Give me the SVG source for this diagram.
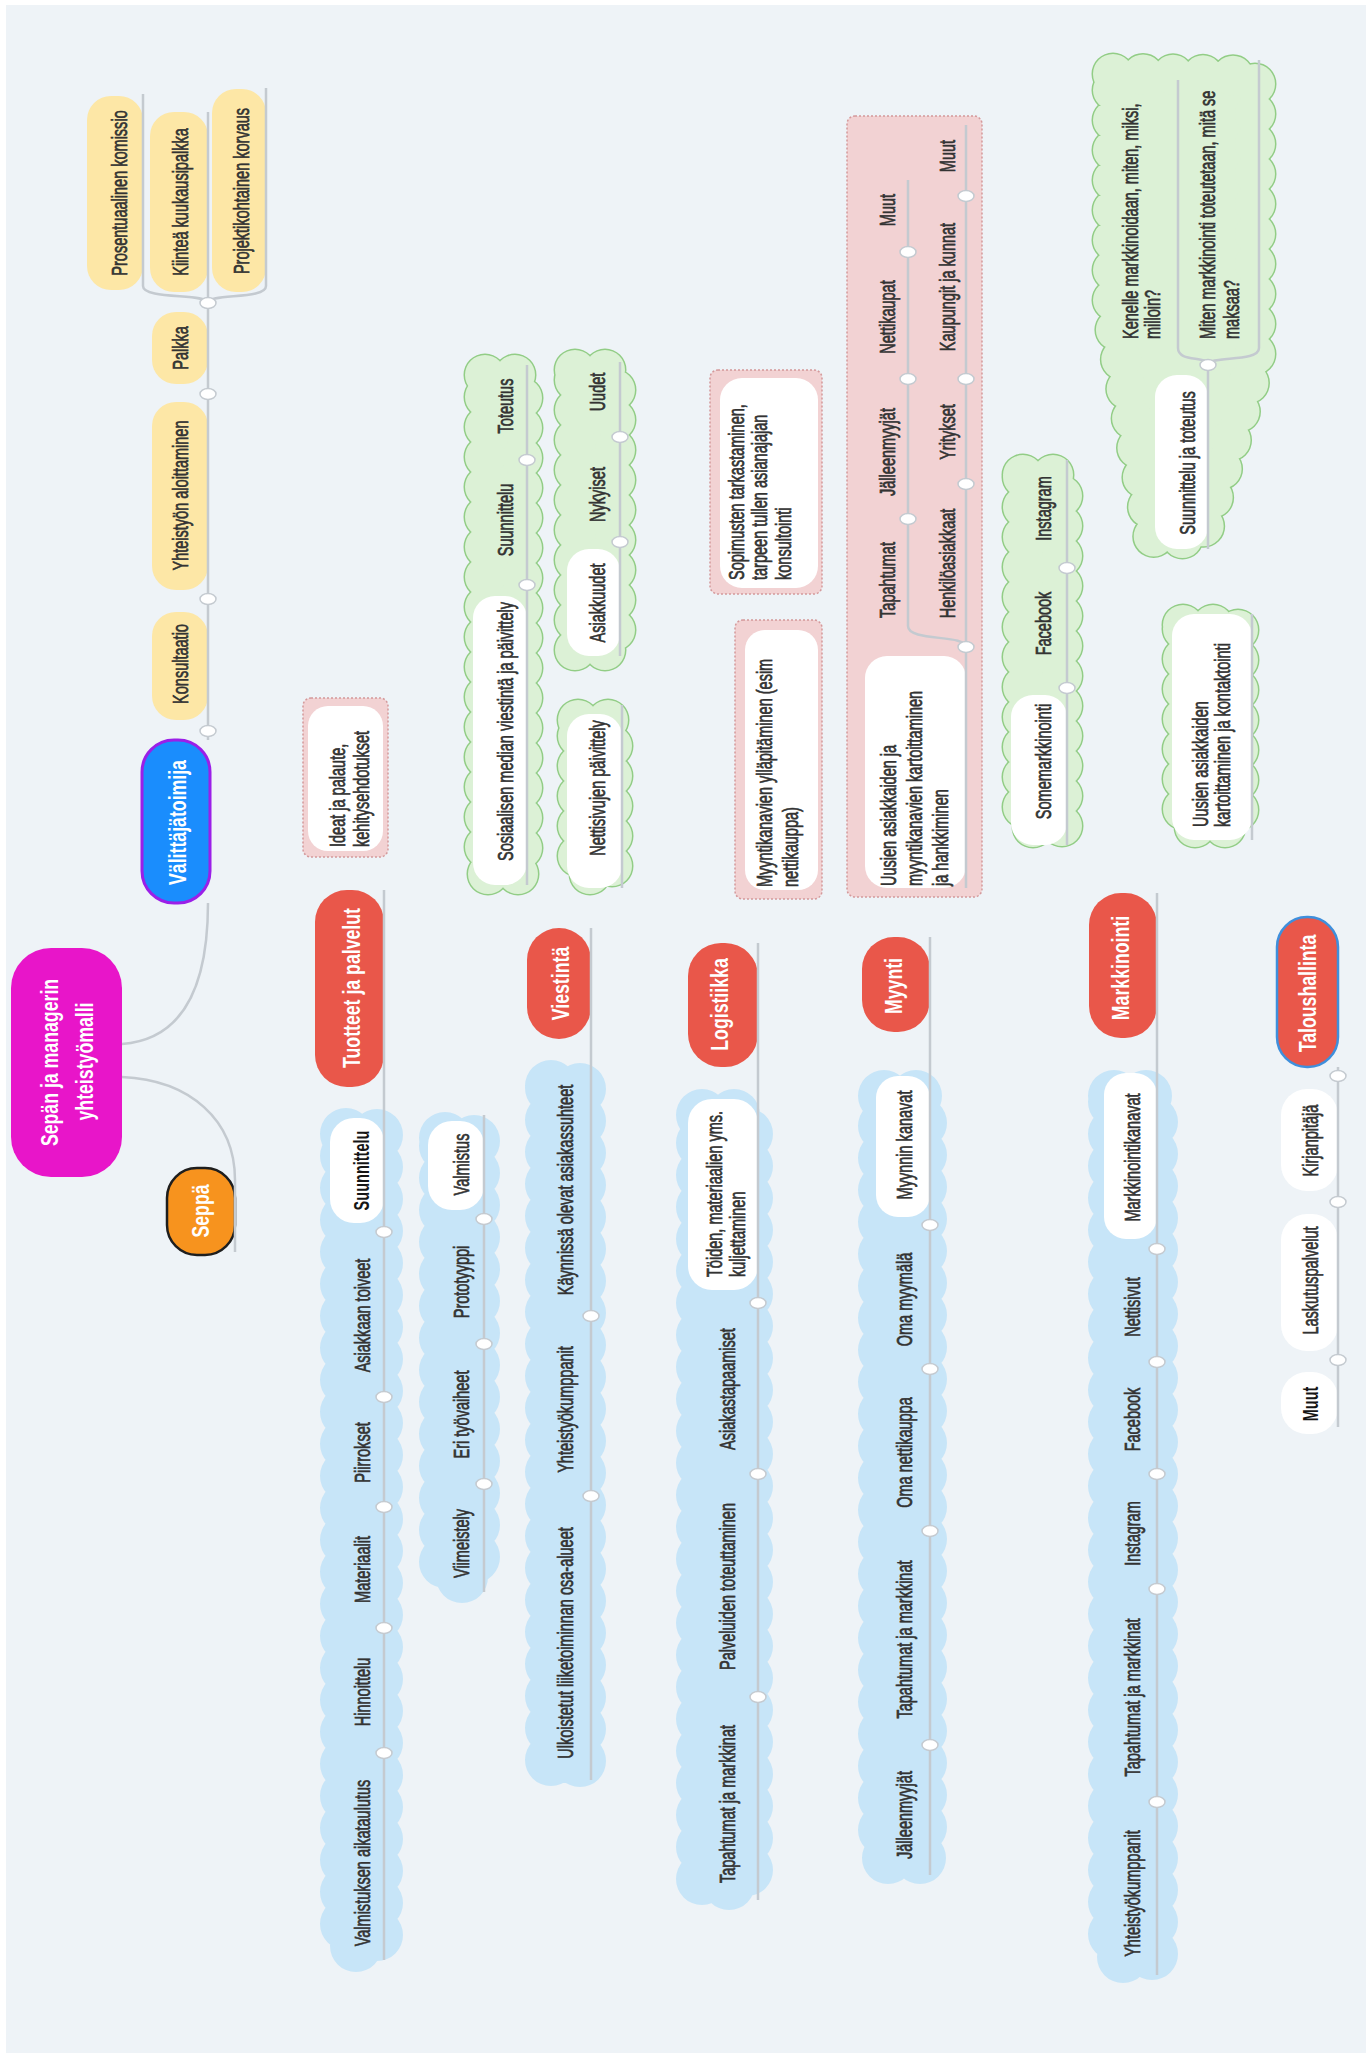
<svg xmlns="http://www.w3.org/2000/svg" width="1372" height="2053" viewBox="0 0 1372 2053">
  <style>
    text{font-family:"Liberation Sans",Arial,sans-serif}
    .t{font-size:22px;fill:#333;stroke:#333;stroke-width:.7;text-anchor:middle;dominant-baseline:central}
    .ts{font-size:22px;fill:#333;stroke:#333;stroke-width:.7;text-anchor:start;dominant-baseline:central}
    .tb{font-weight:bold;fill:#151515;stroke:none}
    .w{font-size:23px;font-weight:bold;fill:#fff;text-anchor:middle;dominant-baseline:central}
    .yel{fill:#fde7a6}
    .red{fill:#e9574a}
    .pill{fill:#fff}
    .pink{fill:#f2d2d3;stroke:#d4999b;stroke-width:1.5;stroke-dasharray:2 2}
    .cb{fill:#c7e5f8;stroke:#c7e5f8;stroke-width:52;stroke-dasharray:0 32;stroke-linecap:round;stroke-linejoin:round}
    .cgo{fill:none;stroke:#92cd86;stroke-width:43;stroke-dasharray:0 30;stroke-linecap:round;stroke-linejoin:round}
    .cg{fill:#dcf1d6;stroke:#dcf1d6;stroke-width:40;stroke-dasharray:0 30;stroke-linecap:round;stroke-linejoin:round}
    .ln{fill:none;stroke:#c4cad0;stroke-width:2.5}
    .dot{fill:#fff;stroke:#c4cad0;stroke-width:1.5}
  </style>

  <rect width="1372" height="2053" fill="#fff"/>
  <rect x="6" y="5" width="1360" height="2048" fill="#eef3f7"/>

  <!-- central topic and its two main branches -->
  <g id="n-root">
    <rect x="11" y="948" width="111" height="229" rx="40" fill="#e815c9"/>
    <text class="w" transform="translate(50,1062.5) rotate(-90) scale(.77,1)">Sepän ja managerin</text>
    <text class="w" transform="translate(85,1061.5) rotate(-90) scale(.77,1)">yhteistyömalli</text>
  </g>
  <g id="n-valittajatoimija">
    <rect x="142" y="740" width="68" height="163" rx="32" fill="#1a8dfd" stroke="#9b1fe8" stroke-width="3"/>
    <text class="w" transform="translate(178,822.5) rotate(-90) scale(.77,1)">Välittäjätoimija</text>
  </g>
  <g id="n-seppa">
    <rect x="167" y="1168" width="68" height="87" rx="30" fill="#f7931e" stroke="#1e1e1e" stroke-width="2.5"/>
    <text class="w" transform="translate(201,1211) rotate(-90) scale(.77,1)">Seppä</text>
  </g>

  <!-- yellow sub-topics of Välittäjätoimija -->
  <g id="n-prosentuaalinen">
    <rect class="yel" x="87" y="96" width="56" height="194" rx="24"/>
    <text class="t" transform="translate(119,193) rotate(-90) scale(.66,1)">Prosentuaalinen komissio</text>
  </g>
  <g id="n-kiintea">
    <rect class="yel" x="150" y="112" width="58" height="180" rx="24"/>
    <text class="t" transform="translate(180,202) rotate(-90) scale(.66,1)">Kiinteä kuukausipalkka</text>
  </g>
  <g id="n-projektikohtainen">
    <rect class="yel" x="212" y="89" width="54" height="203" rx="24"/>
    <text class="t" transform="translate(241,191) rotate(-90) scale(.66,1)">Projektikohtainen korvaus</text>
  </g>
  <g id="n-palkka">
    <rect class="yel" x="152" y="312" width="56" height="72" rx="24"/>
    <text class="t" transform="translate(180,348) rotate(-90) scale(.66,1)">Palkka</text>
  </g>
  <g id="n-yhteistyon">
    <rect class="yel" x="152" y="402" width="56" height="188" rx="24"/>
    <text class="t" transform="translate(180,495.5) rotate(-90) scale(.66,1)">Yhteistyön aloittaminen</text>
  </g>
  <g id="n-konsultaatio">
    <rect class="yel" x="152" y="612" width="56" height="108" rx="24"/>
    <text class="t" transform="translate(180,664) rotate(-90) scale(.66,1)">Konsultaatio</text>
  </g>

  <!-- note boxes (pink, dotted) -->
  <g id="n-ideat">
    <rect class="pink" x="303" y="698" width="85" height="159" rx="8"/>
    <rect class="pill" x="308" y="706" width="75" height="145" rx="20"/>
    <text class="ts" transform="translate(337,847) rotate(-90) scale(.66,1)">Ideat ja palaute,</text>
    <text class="ts" transform="translate(361,847) rotate(-90) scale(.66,1)">kehitysehdotukset</text>
  </g>
  <g id="n-sopimusten">
    <rect class="pink" x="710" y="370" width="112" height="224" rx="8"/>
    <rect class="pill" x="720" y="378" width="98" height="210" rx="22"/>
    <text class="ts" transform="translate(736,580) rotate(-90) scale(.66,1)">Sopimusten tarkastaminen,</text>
    <text class="ts" transform="translate(759,580) rotate(-90) scale(.66,1)">tarpeen tullen asianajajan</text>
    <text class="ts" transform="translate(783,580) rotate(-90) scale(.66,1)">konsultointi</text>
  </g>
  <g id="n-myyntikanavien">
    <rect class="pink" x="735" y="620" width="87" height="279" rx="8"/>
    <rect class="pill" x="745" y="630" width="73" height="260" rx="20"/>
    <text class="ts" transform="translate(764,887) rotate(-90) scale(.66,1)">Myyntikanavien ylläpitäminen (esim</text>
    <text class="ts" transform="translate(790,887) rotate(-90) scale(.66,1)">nettikauppa)</text>
  </g>
  <g id="n-uusien-myynti">
    <rect class="pink" x="847" y="116" width="135" height="781" rx="8"/>
    <rect class="pill" x="865" y="656" width="101" height="232" rx="22"/>
    <text class="ts" transform="translate(888,886) rotate(-90) scale(.66,1)">Uusien asiakkaiden ja</text>
    <text class="ts" transform="translate(914,886) rotate(-90) scale(.66,1)">myyntikanavien kartoittaminen</text>
    <text class="ts" transform="translate(940,886) rotate(-90) scale(.66,1)">ja hankkiminen</text>
    <text class="t" transform="translate(887,210) rotate(-90) scale(.66,1)">Muut</text>
    <text class="t" transform="translate(887,317) rotate(-90) scale(.66,1)">Nettikaupat</text>
    <text class="t" transform="translate(887,452) rotate(-90) scale(.66,1)">Jälleenmyyjät</text>
    <text class="t" transform="translate(887,580) rotate(-90) scale(.66,1)">Tapahtumat</text>
    <text class="t" transform="translate(947,156) rotate(-90) scale(.66,1)">Muut</text>
    <text class="t" transform="translate(947,287) rotate(-90) scale(.66,1)">Kaupungit ja kunnat</text>
    <text class="t" transform="translate(947,432) rotate(-90) scale(.66,1)">Yritykset</text>
    <text class="t" transform="translate(947,563.5) rotate(-90) scale(.66,1)">Henkilöasiakkaat</text>
  </g>

  <!-- green clouds -->
  <g id="n-some-viestinta">
    <rect class="cgo" x="485" y="375" width="37" height="499"/>
    <rect class="cg" x="485" y="375" width="37" height="499"/>
    <rect class="pill" x="473" y="596" width="54" height="289" rx="22"/>
    <text class="t" transform="translate(505,731.5) rotate(-90) scale(.66,1)">Sosiaalisen median viestintä ja päivittely</text>
    <text class="t" transform="translate(505,520) rotate(-90) scale(.66,1)">Suunnittelu</text>
    <text class="t" transform="translate(505,406) rotate(-90) scale(.66,1)">Toteutus</text>
  </g>
  <g id="n-asiakkuudet">
    <rect class="cgo" x="575" y="370" width="40" height="280"/>
    <rect class="cg" x="575" y="370" width="40" height="280"/>
    <rect class="pill" x="567" y="549" width="53" height="107" rx="22"/>
    <text class="t" transform="translate(597,603) rotate(-90) scale(.66,1)">Asiakkuudet</text>
    <text class="t" transform="translate(597,494.5) rotate(-90) scale(.66,1)">Nykyiset</text>
    <text class="t" transform="translate(597,392) rotate(-90) scale(.66,1)">Uudet</text>
  </g>
  <g id="n-nettisivujen">
    <rect class="cgo" x="578" y="720" width="34" height="154"/>
    <rect class="cg" x="578" y="720" width="34" height="154"/>
    <rect class="pill" x="567" y="714" width="55" height="174" rx="22"/>
    <text class="t" transform="translate(597,788) rotate(-90) scale(.66,1)">Nettisivujen päivittely</text>
  </g>
  <g id="n-somemarkkinointi">
    <rect class="cgo" x="1023" y="475" width="39" height="352"/>
    <rect class="cg" x="1023" y="475" width="39" height="352"/>
    <rect class="pill" x="1011" y="695" width="56" height="150" rx="22"/>
    <text class="t" transform="translate(1043,761.5) rotate(-90) scale(.66,1)">Somemarkkinointi</text>
    <text class="t" transform="translate(1043,623.5) rotate(-90) scale(.66,1)">Facebook</text>
    <text class="t" transform="translate(1043,508.5) rotate(-90) scale(.66,1)">Instagram</text>
  </g>
  <g id="n-uusien-kontaktointi">
    <rect class="cgo" x="1183" y="625" width="55" height="202"/>
    <rect class="cg" x="1183" y="625" width="55" height="202"/>
    <rect class="pill" x="1172" y="614" width="80" height="226" rx="22"/>
    <text class="ts" transform="translate(1200,827) rotate(-90) scale(.66,1)">Uusien asiakkaiden</text>
    <text class="ts" transform="translate(1222,827) rotate(-90) scale(.66,1)">kartoittaminen ja kontaktointi</text>
  </g>
  <g id="n-suunnittelu-toteutus">
    <polygon class="cgo" points="1113,74 1255,76 1255,362 1200,538 1154,538 1113,314"/>
    <polygon class="cg" points="1113,74 1255,76 1255,362 1200,538 1154,538 1113,314"/>
    <rect class="pill" x="1155" y="375" width="53" height="174" rx="22"/>
    <text class="t" transform="translate(1187,463) rotate(-90) scale(.66,1)">Suunnittelu ja toteutus</text>
    <text class="ts" transform="translate(1130,339) rotate(-90) scale(.66,1)">Kenelle markkinoidaan, miten, miksi,</text>
    <text class="ts" transform="translate(1152,339) rotate(-90) scale(.66,1)">milloin?</text>
    <text class="ts" transform="translate(1207,339) rotate(-90) scale(.66,1)">Miten markkinointi toteutetaan, mitä se</text>
    <text class="ts" transform="translate(1231,339) rotate(-90) scale(.66,1)">maksaa?</text>
  </g>

  <!-- main topics (red) -->
  <g id="n-tuotteet">
    <rect class="red" x="315" y="890" width="69" height="197" rx="32"/>
    <text class="w" transform="translate(352,988) rotate(-90) scale(.77,1)">Tuotteet ja palvelut</text>
  </g>
  <g id="n-viestinta">
    <rect class="red" x="527" y="928" width="64" height="111" rx="32"/>
    <text class="w" transform="translate(561,983.5) rotate(-90) scale(.77,1)">Viestintä</text>
  </g>
  <g id="n-logistiikka">
    <rect class="red" x="688" y="943" width="70" height="124" rx="33"/>
    <text class="w" transform="translate(720,1004.5) rotate(-90) scale(.77,1)">Logistiikka</text>
  </g>
  <g id="n-myynti">
    <rect class="red" x="862" y="937" width="68" height="95" rx="32"/>
    <text class="w" transform="translate(894,986) rotate(-90) scale(.77,1)">Myynti</text>
  </g>
  <g id="n-markkinointi">
    <rect class="red" x="1089" y="893" width="68" height="145" rx="32"/>
    <text class="w" transform="translate(1121,968) rotate(-90) scale(.77,1)">Markkinointi</text>
  </g>
  <g id="n-taloushallinta">
    <rect class="red" x="1277" y="917" width="61" height="150" rx="30" stroke="#3f8fdc" stroke-width="2.5"/>
    <text class="w" transform="translate(1308,993.5) rotate(-90) scale(.77,1)">Taloushallinta</text>
  </g>

  <!-- blue clouds: sub-topic chains -->
  <g id="n-suunnittelu-chain">
    <rect class="cb" x="346" y="1134" width="31" height="812"/>
    <rect class="pill" x="330" y="1118" width="54" height="105" rx="24"/>
    <text class="t tb" transform="translate(361,1170.5) rotate(-90) scale(.66,1)">Suunnittelu</text>
    <text class="t" transform="translate(362,1315.5) rotate(-90) scale(.66,1)">Asiakkaan toiveet</text>
    <text class="t" transform="translate(362,1452.5) rotate(-90) scale(.66,1)">Piirrokset</text>
    <text class="t" transform="translate(362,1569.5) rotate(-90) scale(.66,1)">Materiaalit</text>
    <text class="t" transform="translate(362,1692) rotate(-90) scale(.66,1)">Hinnoittelu</text>
    <text class="t" transform="translate(362,1863) rotate(-90) scale(.66,1)">Valmistuksen aikataulutus</text>
  </g>
  <g id="n-valmistus-chain">
    <rect class="cb" x="445" y="1138" width="29" height="439"/>
    <rect class="pill" x="428" y="1121" width="56" height="89" rx="24"/>
    <text class="t" transform="translate(461,1164.5) rotate(-90) scale(.66,1)">Valmistus</text>
    <text class="t" transform="translate(461,1282) rotate(-90) scale(.66,1)">Prototyyppi</text>
    <text class="t" transform="translate(461,1414.5) rotate(-90) scale(.66,1)">Eri työvaiheet</text>
    <text class="t" transform="translate(461,1543.5) rotate(-90) scale(.66,1)">Viimeistely</text>
  </g>
  <g id="n-viestinta-chain">
    <rect class="cb" x="551" y="1086" width="29" height="676"/>
    <text class="t" transform="translate(565,1190) rotate(-90) scale(.66,1)">Käynnissä olevat asiakassuhteet</text>
    <text class="t" transform="translate(565,1409.5) rotate(-90) scale(.66,1)">Yhteistyökumppanit</text>
    <text class="t" transform="translate(565,1643) rotate(-90) scale(.66,1)">Ulkoistetut liiketoiminnan osa-alueet</text>
  </g>
  <g id="n-logistiikka-chain">
    <rect class="cb" x="702" y="1115" width="45" height="769"/>
    <rect class="pill" x="688" y="1099" width="70" height="191" rx="24"/>
    <text class="ts" transform="translate(714,1277) rotate(-90) scale(.66,1)">Töiden, materiaalien yms.</text>
    <text class="ts" transform="translate(737,1277) rotate(-90) scale(.66,1)">kuljettaminen</text>
    <text class="t" transform="translate(727,1389) rotate(-90) scale(.66,1)">Asiakastapaamiset</text>
    <text class="t" transform="translate(727,1586.5) rotate(-90) scale(.66,1)">Palveluiden toteuttaminen</text>
    <text class="t" transform="translate(727,1804) rotate(-90) scale(.66,1)">Tapahtumat ja markkinat</text>
  </g>
  <g id="n-myynti-chain">
    <rect class="cb" x="884" y="1096" width="37" height="762"/>
    <rect class="pill" x="876" y="1076" width="54" height="141" rx="22"/>
    <text class="t" transform="translate(904,1145) rotate(-90) scale(.66,1)">Myynnin kanavat</text>
    <text class="t" transform="translate(904,1299.5) rotate(-90) scale(.66,1)">Oma myymälä</text>
    <text class="t" transform="translate(904,1452.5) rotate(-90) scale(.66,1)">Oma nettikauppa</text>
    <text class="t" transform="translate(904,1639.5) rotate(-90) scale(.66,1)">Tapahtumat ja markkinat</text>
    <text class="t" transform="translate(904,1815) rotate(-90) scale(.66,1)">Jälleenmyyjät</text>
  </g>
  <g id="n-markkinointi-chain">
    <rect class="cb" x="1114" y="1096" width="38" height="861"/>
    <rect class="pill" x="1104" y="1073" width="53" height="166" rx="22"/>
    <text class="t" transform="translate(1132,1157.5) rotate(-90) scale(.66,1)">Markkinointikanavat</text>
    <text class="t" transform="translate(1132,1307) rotate(-90) scale(.66,1)">Nettisivut</text>
    <text class="t" transform="translate(1132,1419.5) rotate(-90) scale(.66,1)">Facebook</text>
    <text class="t" transform="translate(1132,1533.5) rotate(-90) scale(.66,1)">Instagram</text>
    <text class="t" transform="translate(1132,1697.5) rotate(-90) scale(.66,1)">Tapahtumat ja markkinat</text>
    <text class="t" transform="translate(1132,1893.5) rotate(-90) scale(.66,1)">Yhteistyökumppanit</text>
  </g>
  <g id="n-talous-chain">
    <rect class="pill" x="1281" y="1089" width="57" height="102" rx="26"/>
    <text class="t" transform="translate(1310,1140.5) rotate(-90) scale(.66,1)">Kirjanpitäjä</text>
    <rect class="pill" x="1281" y="1214" width="57" height="137" rx="26"/>
    <text class="t" transform="translate(1310,1280.5) rotate(-90) scale(.66,1)">Laskutuspalvelut</text>
    <rect class="pill" x="1281" y="1372" width="57" height="62" rx="26"/>
    <text class="t tb" transform="translate(1310,1404) rotate(-90) scale(.66,1)">Muut</text>
  </g>

  <!-- connectors: branch lines, brackets and joints -->
  <g id="connectors">
    <path class="ln" d="M122,1044 C175,1040 208,1000 208,903"/>
    <path class="ln" d="M122,1077 C190,1080 235,1120 235,1180 L235,1252"/>
    <path class="ln" d="M208,740 L208,303"/>
    <path class="ln" d="M208,303 C208,293 143,300 143,286 L143,94"/>
    <path class="ln" d="M208,303 L208,112"/>
    <path class="ln" d="M208,303 C208,293 266,300 266,286 L266,88"/>

    <path class="ln" d="M384,890 L384,1960"/>
    <path class="ln" d="M484,1115 L484,1592"/>
    <path class="ln" d="M591,928 L591,1780"/>
    <path class="ln" d="M758,943 L758,1900"/>
    <path class="ln" d="M930,937 L930,1875"/>
    <path class="ln" d="M1157,893 L1157,1975"/>
    <path class="ln" d="M1338,1067 L1338,1427"/>

    <path class="ln" d="M527,365 L527,885"/>
    <path class="ln" d="M620,362 L620,656"/>
    <path class="ln" d="M622,705 L622,888"/>
    <path class="ln" d="M966,888 L966,125"/>
    <path class="ln" d="M966,647 C966,634 908,642 908,626 L908,180"/>
    <path class="ln" d="M1067,460 L1067,845"/>
    <path class="ln" d="M1252,614 L1252,840"/>
    <path class="ln" d="M1208,549 L1208,365"/>
    <path class="ln" d="M1208,365 C1208,355 1178,363 1178,348 L1178,80"/>
    <path class="ln" d="M1208,365 C1208,355 1259,363 1259,348 L1259,60"/>

    <g class="dot">
      <ellipse cx="208" cy="303" rx="8" ry="5.5"/>
      <ellipse cx="208" cy="394" rx="8" ry="5.5"/>
      <ellipse cx="208" cy="599" rx="8" ry="5.5"/>
      <ellipse cx="208" cy="731" rx="8" ry="5.5"/>

      <ellipse cx="384" cy="1232" rx="8" ry="5.5"/>
      <ellipse cx="384" cy="1397" rx="8" ry="5.5"/>
      <ellipse cx="384" cy="1507" rx="8" ry="5.5"/>
      <ellipse cx="384" cy="1628" rx="8" ry="5.5"/>
      <ellipse cx="384" cy="1753" rx="8" ry="5.5"/>

      <ellipse cx="484" cy="1219" rx="8" ry="5.5"/>
      <ellipse cx="484" cy="1344" rx="8" ry="5.5"/>
      <ellipse cx="484" cy="1484" rx="8" ry="5.5"/>

      <ellipse cx="591" cy="1316" rx="8" ry="5.5"/>
      <ellipse cx="591" cy="1496" rx="8" ry="5.5"/>

      <ellipse cx="758" cy="1303" rx="8" ry="5.5"/>
      <ellipse cx="758" cy="1474" rx="8" ry="5.5"/>
      <ellipse cx="758" cy="1697" rx="8" ry="5.5"/>

      <ellipse cx="930" cy="1225" rx="8" ry="5.5"/>
      <ellipse cx="930" cy="1369" rx="8" ry="5.5"/>
      <ellipse cx="930" cy="1531" rx="8" ry="5.5"/>
      <ellipse cx="930" cy="1745" rx="8" ry="5.5"/>

      <ellipse cx="1157" cy="1249" rx="8" ry="5.5"/>
      <ellipse cx="1157" cy="1362" rx="8" ry="5.5"/>
      <ellipse cx="1157" cy="1474" rx="8" ry="5.5"/>
      <ellipse cx="1157" cy="1589" rx="8" ry="5.5"/>
      <ellipse cx="1157" cy="1802" rx="8" ry="5.5"/>

      <ellipse cx="1338" cy="1076" rx="8" ry="5.5"/>
      <ellipse cx="1338" cy="1202" rx="8" ry="5.5"/>
      <ellipse cx="1338" cy="1360" rx="8" ry="5.5"/>

      <ellipse cx="527" cy="460" rx="8" ry="5.5"/>
      <ellipse cx="527" cy="585" rx="8" ry="5.5"/>
      <ellipse cx="620" cy="437" rx="8" ry="5.5"/>
      <ellipse cx="620" cy="542" rx="8" ry="5.5"/>

      <ellipse cx="908" cy="252" rx="8" ry="5.5"/>
      <ellipse cx="908" cy="379" rx="8" ry="5.5"/>
      <ellipse cx="908" cy="519" rx="8" ry="5.5"/>
      <ellipse cx="966" cy="196" rx="8" ry="5.5"/>
      <ellipse cx="966" cy="379" rx="8" ry="5.5"/>
      <ellipse cx="966" cy="484" rx="8" ry="5.5"/>
      <ellipse cx="966" cy="647" rx="8" ry="5.5"/>

      <ellipse cx="1067" cy="568" rx="8" ry="5.5"/>
      <ellipse cx="1067" cy="688" rx="8" ry="5.5"/>
      <ellipse cx="1208" cy="365" rx="8" ry="5.5"/>
    </g>
  </g>
</svg>
